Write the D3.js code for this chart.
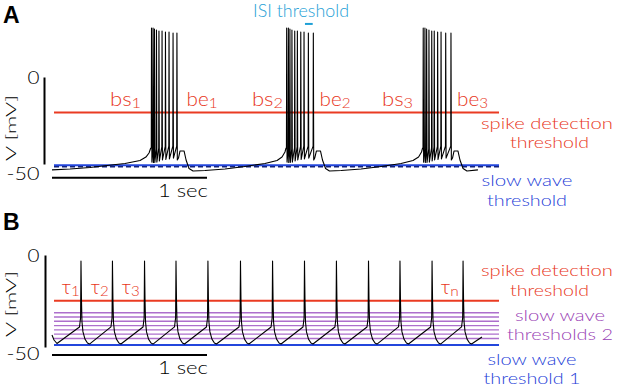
<!DOCTYPE html>
<html><head><meta charset="utf-8">
<script src="https://cdn.jsdelivr.net/npm/d3@7"></script>
<style>
body{margin:0;background:#fff}
svg{display:block}
text{font-family:Lato,"Liberation Sans",Arial,sans-serif;font-weight:300}
text.panel{font-family:"Liberation Sans",Arial,sans-serif;font-weight:bold}
</style>
</head><body><div id="chart"></div>
<script>
// ================= DATA =================
// Panel A : bursting trace (time in s, voltage in mV)
const burstSpikeTimesA = [
  [0.642, 0.652, 0.661, 0.674, 0.690, 0.710, 0.732, 0.755, 0.781, 0.806],
  [1.514, 1.525, 1.535, 1.548, 1.566, 1.583, 1.605, 1.626, 1.654, 1.686],
  [2.395, 2.406, 2.417, 2.432, 2.450, 2.466, 2.488, 2.510, 2.540, 2.574]
];
const spikePeakA   = [28.2, 28.2, 27.6, 27.0, 26.4, 26.4, 25.9, 25.9, 25.3, 25.3];
const spikeOnsetA  = [-40.8, -42.0, -42.0, -41.4, -40.8, -40.2, -39.9, -39.7, -39.7, -39.7];
const spikeTroughA = [-48.9, -49.1, -49.1, -48.9, -48.3, -47.7, -47.4, -47.1, -46.6, -47.7];
const slowWaveA = [
  [0.000,-53.4],[0.116,-52.9],[0.245,-52.0],[0.355,-50.9],[0.471,-49.7],[0.568,-48.0],[0.606,-46.0],[0.626,-43.7],[0.637,-40.8],
  [0.816,-46.6],[0.826,-42.5],[0.852,-42.5],[0.865,-47.7],[0.884,-52.6],[0.910,-54.0],[0.987,-53.7],[1.116,-52.9],[1.245,-51.4],[1.374,-49.7],[1.452,-48.0],[1.484,-46.0],[1.503,-43.1],[1.510,-40.8],
  [1.695,-46.6],[1.706,-42.5],[1.732,-42.5],[1.745,-47.7],[1.765,-52.6],[1.790,-54.0],[1.865,-53.7],[1.994,-52.9],[2.123,-51.4],[2.252,-49.7],[2.329,-48.0],[2.365,-46.0],[2.384,-43.1],[2.391,-40.8],
  [2.584,-46.6],[2.594,-42.5],[2.619,-42.5],[2.632,-47.7],[2.652,-52.6],[2.677,-54.0],[2.748,-53.4]
];
const spikeThresholdA = -20.4;
const slowWaveThresholdA = -50.7;
const slowWaveMeanA = -51.6;
const isiThresholdA = [1.632, 1.682];   // time extent of ISI bar
const isiLevelA = 30.5;
const burstLabelsA = [["bs","1"],["be","1"],["bs","2"],["be","2"],["bs","3"],["be","3"]];
const burstLabelTimesA = [0.374, 0.868, 1.290, 1.726, 2.129, 2.613];

// Panel B : tonic spiking trace
const spikeTimesB = [0.187, 0.390, 0.597, 0.800, 1.006, 1.216, 1.423, 1.629, 1.835, 2.042, 2.245, 2.452, 2.652];
const spikeShapeDtB = [-0.0097, -0.0026, 0, 0.0032, 0.0065, 0.0129, 0.0258, 0.0419, 0.0548];
const spikeShapeVB  = [-39.1, -34.2, -3.3, -24.5, -36.4, -41.8, -45.7, -47.8, -48.4];
const traceStartB = [[0, -43.5], [0.013, -46.2], [0.032, -48.1]];
const traceEndB = [[2.774, -44.6]];
const spikeThresholdB = -24.8;
const slowWaveThresholds2B = [-31.4, -33.7, -36.0, -38.4, -40.7, -43.0, -45.4];
const slowWaveThreshold1B = -48.9;
const tauLabelsB = ["1","2","3","n"];
const tauLabelTimesB = [0.063, 0.250, 0.450, 2.508];

const yTicks = [0, -50];
const thresholdSpan = [0.013, 2.884];   // time extent of threshold lines

// ================= DRAW =================
const W = 617, H = 388;
const svg = d3.select("#chart").append("svg").attr("width", W).attr("height", H);

const RED = "#ea3b22", BLUE = "#2346dc", NAVY = "#13227a", PURPLE = "#ad6fcc", PURPLE_T = "#9a3fb5", CYAN = "#1ea0d6";
const RED_T = "#e8371c", BLUE_T = "#1f3fd8";

const x = d3.scaleLinear().domain([0, 3]).range([52, 517]);
const yA = d3.scaleLinear().domain([-50, 0]).range([164, 77]);
const yB = d3.scaleLinear().domain([-50, 0]).range([347, 255]);

function axisPanel(y, ax, label0Dy, label50Dy, vCenter, barY) {
  const g = svg.append("g").attr("transform", `translate(${ax},0)`)
    .call(d3.axisLeft(y).tickValues([]).tickSizeOuter(0));
  g.select(".domain").attr("stroke", "#000").attr("stroke-width", 2);
  svg.selectAll(null).data(yTicks).enter().append("text")
    .attr("x", 39.5).attr("y", d => y(d) + (d === 0 ? label0Dy : label50Dy))
    .attr("text-anchor", "end").attr("font-size", 17)
    .attr("textLength", d => d === 0 ? 12 : 33).attr("lengthAdjust", "spacingAndGlyphs")
    .text(d => d);
  svg.append("text").attr("transform", `translate(15.5,${vCenter}) rotate(-90)`)
    .attr("text-anchor", "middle").attr("font-size", 14.5)
    .attr("textLength", 66).attr("lengthAdjust", "spacingAndGlyphs").text("V [mV]");
  // scale bar 1 sec
  svg.append("line").attr("x1", x(0)).attr("x2", x(1)).attr("y1", barY).attr("y2", barY)
    .attr("stroke", "#000").attr("stroke-width", 2);
  svg.append("text").attr("x", x(1) + 1).attr("y", barY + 19).attr("text-anchor", "end")
    .attr("font-size", 17).attr("textLength", 50).attr("lengthAdjust", "spacingAndGlyphs").text("1 sec");
}

function hline(y, v, color, w, dash) {
  const l = svg.append("line").attr("x1", x(thresholdSpan[0])).attr("x2", x(thresholdSpan[1]))
    .attr("y1", y(v)).attr("y2", y(v)).attr("stroke", color).attr("stroke-width", w);
  if (dash) l.attr("stroke-dasharray", dash);
  return l;
}

// two-line label as one text element
function label2(lines, color) {
  const t = svg.append("text").attr("text-anchor", "middle").attr("fill", color).attr("font-size", 16);
  lines.forEach(l => t.append("tspan").attr("x", l[1]).attr("y", l[2])
    .attr("textLength", l[3]).attr("lengthAdjust", "spacingAndGlyphs").text(l[0]));
}

// ---------- Panel A ----------
svg.append("text").attr("class", "panel").attr("x", 3).attr("y", 23).attr("font-size", 23).text("A");
axisPanel(yA, 44, 7, 16, 128, 177.7);

hline(yA, spikeThresholdA, RED, 2);
hline(yA, slowWaveThresholdA, BLUE, 2);
hline(yA, slowWaveMeanA, NAVY, 1.4, "5,3");

const ptsA = slowWaveA.slice();
burstSpikeTimesA.forEach(b => b.forEach((t, i) => {
  ptsA.push([t - 0.0015, spikeOnsetA[i]], [t, spikePeakA[i]], [t + 0.0025, spikeTroughA[i]]);
}));
ptsA.sort((a, b) => a[0] - b[0]);
svg.append("path").datum(ptsA)
  .attr("d", d3.line().x(d => x(d[0])).y(d => yA(d[1])))
  .attr("fill", "none").attr("stroke", "#000").attr("stroke-width", 1.1).attr("stroke-linejoin", "round");

// ISI threshold
svg.append("line").attr("x1", x(isiThresholdA[0])).attr("x2", x(isiThresholdA[1]))
  .attr("y1", yA(isiLevelA)).attr("y2", yA(isiLevelA)).attr("stroke", CYAN).attr("stroke-width", 2);
svg.append("text").attr("x", 301).attr("y", 16.5).attr("text-anchor", "middle").attr("fill", CYAN)
  .attr("font-size", 17).attr("textLength", 96).attr("lengthAdjust", "spacingAndGlyphs").text("ISI threshold");

// burst labels
burstLabelsA.forEach((lb, i) => {
  const t = svg.append("text").attr("x", x(burstLabelTimesA[i])).attr("y", 106)
    .attr("fill", RED_T).attr("font-size", 19)
    .attr("textLength", 31).attr("lengthAdjust", "spacingAndGlyphs");
  t.append("tspan").text(lb[0]);
  t.append("tspan").attr("font-size", 14).attr("dy", 2).text(lb[1]);
});

label2([["spike detection", 547, 128.5, 132], ["threshold", 549.5, 148, 79]], RED_T);
label2([["slow wave", 527, 186, 91], ["threshold", 527, 205.5, 80]], BLUE_T);

// ---------- Panel B ----------
svg.append("text").attr("class", "panel").attr("x", 3).attr("y", 230).attr("font-size", 23).text("B");
axisPanel(yB, 45, 6.5, 13, 304, 355);

slowWaveThresholds2B.forEach(v => hline(yB, v, PURPLE, 1.4));
hline(yB, spikeThresholdB, RED, 2);
hline(yB, slowWaveThreshold1B, BLUE, 2);

const ptsB = traceStartB.slice();
spikeTimesB.forEach(t => spikeShapeDtB.forEach((dt, k) => ptsB.push([t + dt, spikeShapeVB[k]])));
traceEndB.forEach(p => ptsB.push(p));
svg.append("path").datum(ptsB)
  .attr("d", d3.line().x(d => x(d[0])).y(d => yB(d[1])))
  .attr("fill", "none").attr("stroke", "#000").attr("stroke-width", 1.1).attr("stroke-linejoin", "round");

tauLabelsB.forEach((s, i) => {
  const t = svg.append("text").attr("x", x(tauLabelTimesB[i])).attr("y", 293.5)
    .attr("fill", RED_T).attr("font-size", 19)
    .attr("textLength", 18).attr("lengthAdjust", "spacingAndGlyphs");
  t.append("tspan").text("τ");
  t.append("tspan").attr("font-size", 14).attr("dy", 2).text(s);
});

label2([["spike detection", 547, 276, 132], ["threshold", 549.5, 295.5, 79]], RED_T);
label2([["slow wave", 560, 320.5, 90], ["thresholds 2", 560, 340, 106]], PURPLE_T);
label2([["slow wave", 532, 364.5, 89], ["threshold 1", 532, 384, 97]], BLUE_T);
</script>
</body></html>
